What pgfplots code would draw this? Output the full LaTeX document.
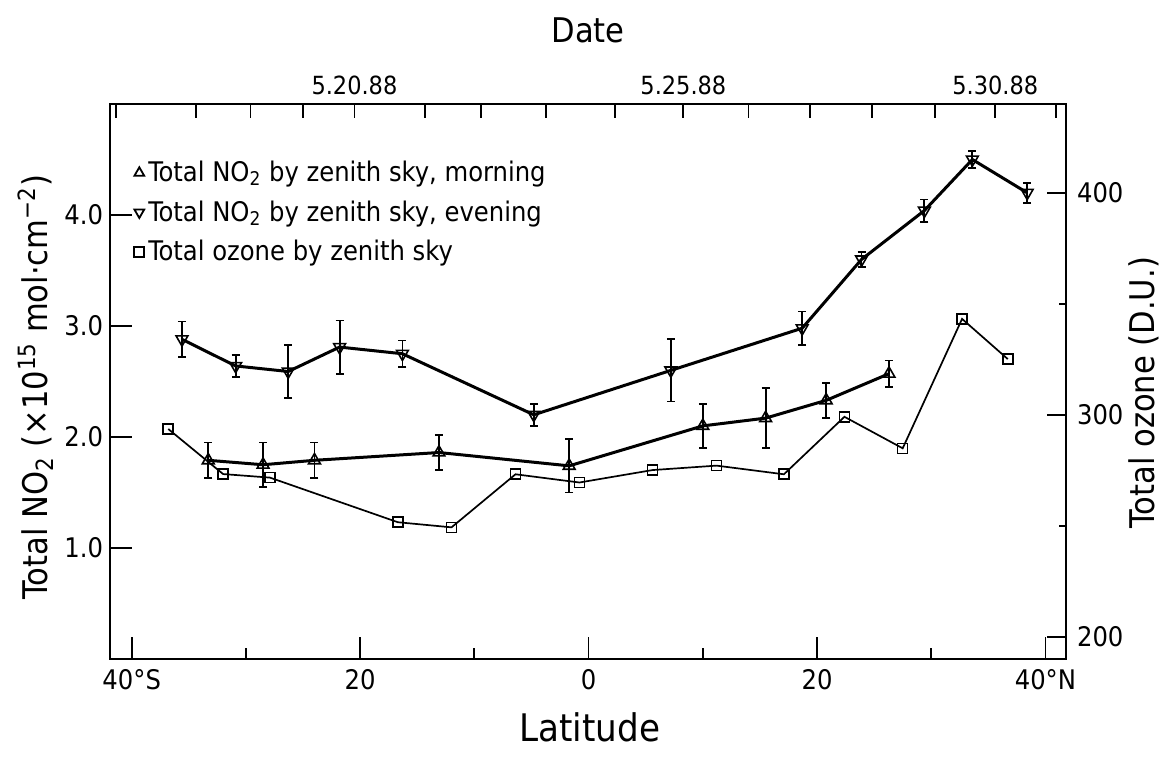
\documentclass[border=0pt]{standalone}
\usepackage{fontspec}
\IfFontExistsTF{DejaVu Sans Condensed}{\setmainfont{DejaVu Sans Condensed}}{\setmainfont{DejaVu Sans}}
\usepackage{pgfplots}
\pgfplotsset{compat=1.18}

\begin{document}
\begin{tikzpicture}
\pgfplotsset{
  base/.style={
    width=478pt, height=277.5pt, scale only axis,
    xmin=-41.9, xmax=41.8,
    tick align=inside,
    axis line style={line width=1pt},
    tick style={black, line width=0.9pt},
    ticklabel style={font=\fontsize{13.5}{16}\selectfont},
    label style={font=\fontsize{17}{20}\selectfont},
  },
}

% NO2 (left) against latitude (bottom)
\begin{axis}[base,
  ymin=0, ymax=5,
  xtick pos=bottom, ytick pos=left,
  xtick={-40,-20,0,20,40},
  xticklabels={40°S,20,0,20,40°N},
  minor xtick={-30,-10,10,30},
  ytick={1,2,3,4},
  yticklabels={1.0,2.0,3.0,4.0},
  major tick length=11pt, minor tick length=5.5pt,
  xticklabel style={yshift=-1.5pt},
  xlabel={Latitude},
  xlabel style={at={(axis description cs:0.502,-0.124)}, anchor=center, font=\fontsize{19}{22}\selectfont},
  ylabel={Total NO\textsubscript{2} (×10\textsuperscript{15} mol·cm\textsuperscript{−2})},
  ylabel style={at={(axis description cs:-0.078,0.49)}, anchor=center},
  clip=false,
  legend cell align=left,
  legend style={at={(axis description cs:0.025,0.905)}, anchor=north west,
    draw=none, fill=none, font=\fontsize{13.5}{16}\selectfont,
    row sep=4pt, inner sep=0pt},
]
% morning
\addplot[forget plot, black, line width=1.5pt, mark=triangle, mark size=3.4pt,
  mark options={fill=white, line width=0.8pt},
  error bars/.cd, y dir=both, y explicit,
  error bar style={line width=0.9pt},
  error mark options={rotate=90, mark size=2pt, line width=0.9pt}]
coordinates {
  (-33.3,1.79) +- (0,0.16)
  (-28.5,1.75) +- (0,0.20)
  (-24.0,1.79) +- (0,0.16)
  (-13.1,1.86) +- (0,0.16)
  (-1.7,1.74) +- (0,0.24)
  (10.0,2.10) +- (0,0.20)
  (15.5,2.17) +- (0,0.27)
  (20.8,2.33) +- (0,0.16)
  (26.3,2.57) +- (0,0.12)
};
% evening
\addplot[forget plot, black, line width=1.5pt, mark=triangle, mark size=3.4pt,
  mark options={fill=white, line width=0.8pt, rotate=180},
  error bars/.cd, y dir=both, y explicit,
  error bar style={line width=0.9pt},
  error mark options={rotate=90, mark size=2pt, line width=0.9pt}]
coordinates {
  (-35.6,2.88) +- (0,0.16)
  (-30.9,2.64) +- (0,0.10)
  (-26.3,2.59) +- (0,0.24)
  (-21.8,2.81) +- (0,0.24)
  (-16.3,2.75) +- (0,0.12)
  (-4.8,2.20) +- (0,0.10)
  (7.2,2.60) +- (0,0.28)
  (18.7,2.98) +- (0,0.15)
  (23.9,3.60) +- (0,0.07)
  (29.4,4.04) +- (0,0.10)
  (33.6,4.50) +- (0,0.08)
  (38.4,4.20) +- (0,0.09)
};
\addlegendimage{only marks, black, mark=triangle, mark size=2.8pt, mark options={line width=0.9pt}}
\addlegendentry{Total NO\textsubscript{2} by zenith sky, morning}
\addlegendimage{only marks, black, mark=triangle, mark size=2.8pt, mark options={line width=0.9pt, rotate=180}}
\addlegendentry{Total NO\textsubscript{2} by zenith sky, evening}
\addlegendimage{only marks, black, mark=square, mark size=2.5pt, mark options={line width=0.9pt}}
\addlegendentry{Total ozone by zenith sky}
\path (axis description cs:-0.1151,-0.2) rectangle (axis description cs:1.114,1.1874);
\end{axis}

% ozone (right)
\begin{axis}[base,
  ymin=190, ymax=440,
  axis x line=none, axis y line*=right,
  ytick={200,300,400},
  yticklabels={200,300,400},
  minor ytick={250,350},
  major tick length=9.5pt, minor tick length=3.5pt,
  yticklabel style={xshift=2pt},
  ylabel={Total ozone  (D.U.)},
  ylabel style={at={(axis description cs:1.081,0.48)}, anchor=center},
]
\addplot[black, line width=0.85pt, mark=square, mark size=2.5pt,
  mark options={fill=white, line width=0.8pt}]
coordinates {
  (-36.8,293.6) (-32.0,273.3) (-27.9,271.7) (-16.7,251.6) (-12.0,249.3)
  (-6.4,273.2) (-0.8,269.5) (5.6,275.1) (11.2,277.1) (17.1,273.2)
  (22.4,299.1) (27.5,284.9) (32.7,343.2) (36.7,325.1)
};
\end{axis}

% dates (top)
\begin{axis}[base,
  ymin=0, ymax=1,
  axis y line=none, axis x line*=top,
  xtick={-41.4,-34.4,-29.6,-25.0,-20.5,-14.3,-9.4,-3.7,2.3,8.3,14.0,19.4,24.8,30.3,35.6,40.9},
  xticklabels={,,,,5.20.88,,,,,5.25.88,,,,,5.30.88,},
  major tick length=7pt,
  xticklabel style={font=\fontsize{12.5}{15}\selectfont, yshift=1pt},
  xlabel={Date},
  xlabel style={at={(axis description cs:0.5,1.133)}, anchor=center},
]
\end{axis}
\end{tikzpicture}
\end{document}
